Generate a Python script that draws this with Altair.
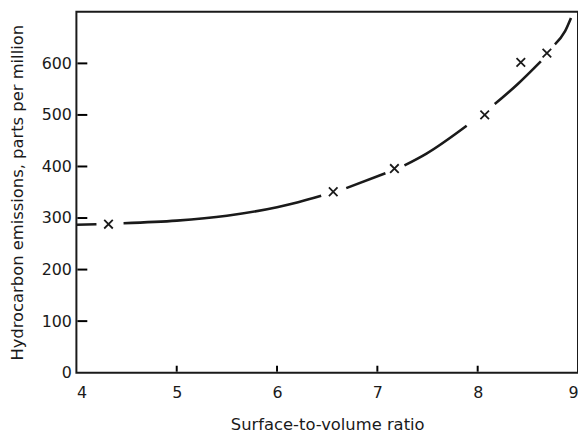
import altair as alt
import pandas as pd

# Measured points (X markers)
pt_x = [4.32, 6.56, 7.17, 8.07, 8.43, 8.69]
pt_y = [288, 351, 396, 500, 602, 620]

# Fitted curve as drawn (broken around markers)
curve_x = [4.0, 4.2, 4.47, 5.0, 5.5, 6.0, 6.21, 6.44, 6.69, 7.08, 7.27, 7.49, 7.89, 8.17, 8.4, 8.63, 8.77, 8.87, 8.93]
curve_y = [287, 288, 290, 295, 304.5, 321, 330.5, 343, 358, 387, 402, 425, 479, 521, 560, 604, 637, 662, 688]
curve_seg = [1, 1, 2, 2, 2, 2, 2, 2, 3, 3, 4, 4, 4, 5, 5, 5, 6, 6, 6]

x_ticks = [4, 5, 6, 7, 8, 9]
y_ticks = [0, 100, 200, 300, 400, 500, 600]
inner_x_ticks = [5, 6, 7, 8]
inner_y_ticks = [100, 200, 300, 400, 500, 600]

pts = pd.DataFrame({"x": pt_x, "y": pt_y})
curve = pd.DataFrame({"x": curve_x, "y": curve_y, "seg": curve_seg})
yt = pd.DataFrame({"y": inner_y_ticks})
xt = pd.DataFrame({"x": inner_x_ticks})

FONT = "DejaVu Sans"
INK = "#1a1a1a"
H = 364

xscale = alt.Scale(domain=[4, 9], nice=False, zero=False)
yscale = alt.Scale(domain=[0, 700], nice=False)

xaxis = alt.Axis(values=x_ticks, format="d", title="Surface-to-volume ratio",
                 ticks=False, domain=False, grid=False, labelPadding=12, titlePadding=16,
                 labelFont=FONT, labelFontSize=16, titleFont=FONT, titleFontSize=16.5,
                 titleFontWeight="normal", labelColor=INK, titleColor=INK)
yaxis = alt.Axis(values=y_ticks, format="d",
                 title="Hydrocarbon emissions, parts per million",
                 ticks=False, domain=False, grid=False, labelPadding=5, titlePadding=16,
                 labelFont=FONT, labelFontSize=16, titleFont=FONT, titleFontSize=16.5,
                 titleFontWeight="normal", labelColor=INK, titleColor=INK)

line = alt.Chart(curve).mark_line(color=INK, strokeWidth=2.6, interpolate="monotone").encode(
    x=alt.X("x:Q", scale=xscale, axis=xaxis),
    y=alt.Y("y:Q", scale=yscale, axis=yaxis),
    detail="seg:N",
)

marks = alt.Chart(pts).mark_point(
    shape="M-1,-1L1,1M-1,1L1,-1", filled=False, color=INK, strokeWidth=1.8, size=75, opacity=1
).encode(x=alt.X("x:Q", scale=xscale), y=alt.Y("y:Q", scale=yscale))

# inward-pointing ticks
ytick = alt.Chart(yt).mark_rule(color="black", strokeWidth=2).encode(
    x=alt.value(1), x2=alt.value(11), y=alt.Y("y:Q", scale=yscale))
xtick = alt.Chart(xt).mark_rule(color="black", strokeWidth=2).encode(
    y=alt.value(H - 1), y2=alt.value(H - 7), x=alt.X("x:Q", scale=xscale))

chart = alt.layer(line, marks, ytick, xtick).properties(
    width=506, height=H,
    autosize=alt.AutoSizeParams(type="none"),
    padding={"left": 69, "top": 2, "right": 0, "bottom": 60},
    background="white",
).configure_view(stroke=INK, strokeWidth=2)

chart.save("out.html", embed_options={"renderer": "svg", "actions": False})
